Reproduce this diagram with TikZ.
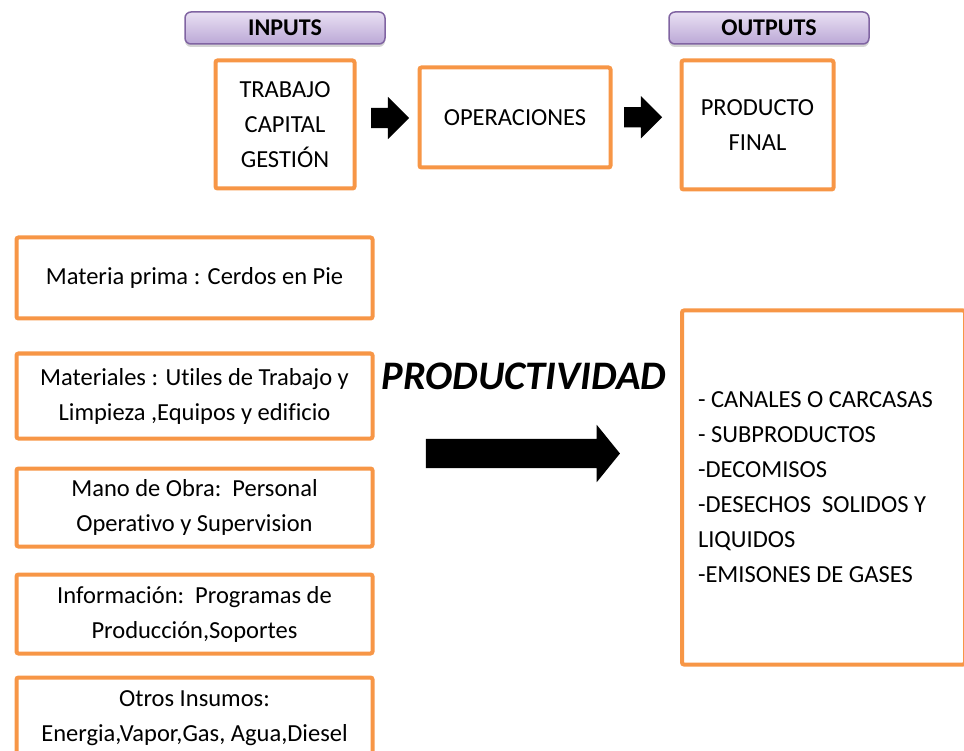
\documentclass[tikz,border=0pt]{standalone}
\usepackage{fontspec}
\setmainfont{Carlito}[RawFeature=-liga]
\usetikzlibrary{positioning,calc,shapes.arrows,shadows}
\definecolor{naranja}{HTML}{F79646}
\definecolor{morado}{HTML}{8064A2}
\definecolor{lilaclaro}{HTML}{E9E0F3}
\definecolor{lilaoscuro}{HTML}{BBA8D6}
\tikzstyle{caja} = [draw=naranja,line width=4pt,fill=white,rounded corners=2pt,align=center,inner sep=0pt,font=\fontsize{24.5}{35}\selectfont]
\tikzstyle{etiqueta} = [draw=morado,line width=1.5pt,rounded corners=6pt,top color=lilaclaro,bottom color=lilaoscuro,
  drop shadow={opacity=0.35,shadow xshift=0pt,shadow yshift=-3pt},minimum width=200pt,minimum height=32pt,
  inner sep=0pt,font=\bfseries\fontsize{24}{28}\selectfont]
\tikzstyle{flecha} = [single arrow,fill=black,inner xsep=0pt,single arrow tip angle=90]

\begin{document}
\begin{tikzpicture}[x=1pt,y=-1pt,node distance=100pt,on grid]
   \useasboundingbox (0,0) rectangle (964,751);
   % fila de arriba
   \node[caja,minimum width=139pt,minimum height=128pt] (trabajo) at (285,124.5) {TRABAJO\\CAPITAL\\GESTIÓN};
   \node[caja,minimum width=191pt,minimum height=100pt] (operaciones) at (515,117.5) {OPERACIONES};
   \node[caja,minimum width=152pt,minimum height=129pt] (producto) at (757.5,125) {PRODUCTO\\FINAL};
   \node[etiqueta] (inputs) [above=96.5pt of trabajo] {INPUTS};
   \node[etiqueta] (outputs) at (769,28) {OUTPUTS};

   \node[flecha,inner ysep=10pt,single arrow head extend=11pt,minimum height=38pt] (flecha1)
      at ($(trabajo.east)!0.5!(operaciones.west)+(-2,-3)$) {};
   \node[flecha,inner ysep=10pt,single arrow head extend=11pt,minimum height=38pt] (flecha2)
      at ($(operaciones.east)!0.5!(producto.west)+(-8,-4)$) {};

   % columna de insumos
   \node[caja,minimum width=356pt,minimum height=81pt] (materia) at (194.5,278) {Materia prima : Cerdos en Pie};
   \node[caja,minimum width=356pt,minimum height=85pt] (materiales) [below=118pt of materia]
      {Materiales : Utiles de Trabajo y\\Limpieza ,Equipos y edificio};
   \node[caja,minimum width=356pt,minimum height=78pt] (mano) [below=111.5pt of materiales]
      {Mano de Obra:\ \ Personal\\Operativo y Supervision};
   \node[caja,minimum width=356pt,minimum height=79pt] (informacion) [below=106.5pt of mano]
      {Información:\ \ Programas de\\Producción,Soportes};
   \node[caja,minimum width=356pt,minimum height=81pt] (otros) [below=104pt of informacion]
      {Otros Insumos:\\Energia,Vapor,Gas, Agua,Diesel};

   \node[font=\bfseries\itshape\fontsize{40.5}{48}\selectfont] (titulo) at (524,376) {PRODUCTIVIDAD};
   \node[flecha,inner ysep=14.5pt,single arrow head extend=14pt,single arrow tip angle=102,minimum height=194pt]
      (flecha3) [below left=77.5pt and 7pt of titulo] {};

   \node[caja,minimum width=283pt,minimum height=354pt,text width=251pt,align=flush left] (salidas) at (823.5,487.5)
      {- CANALES O CARCASAS\\- SUBPRODUCTOS\\-DECOMISOS\\-DESECHOS\ \ SOLIDOS Y\\LIQUIDOS\\-EMISONES DE GASES};
\end{tikzpicture}
\end{document}
